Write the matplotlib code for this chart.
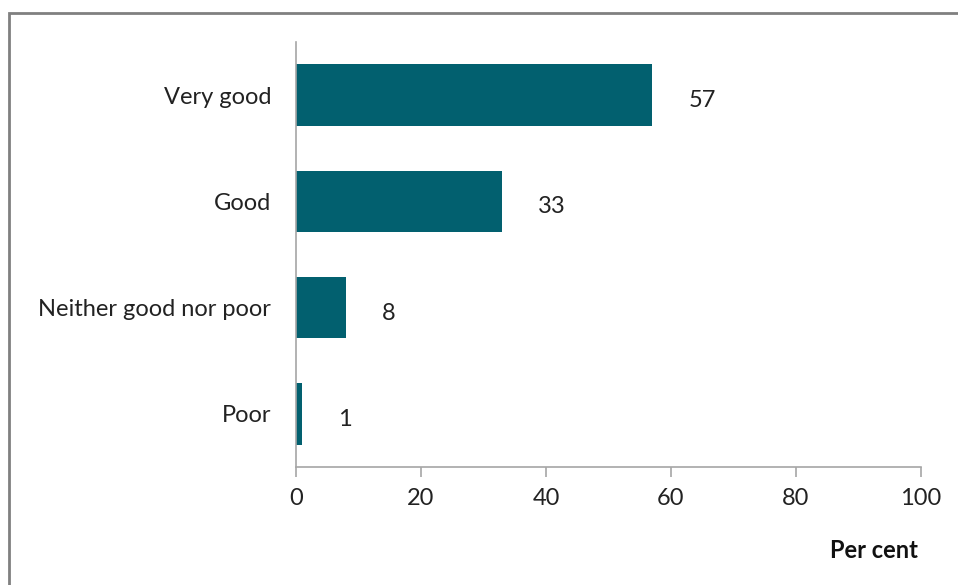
import matplotlib
matplotlib.use("Agg")
import matplotlib.pyplot as plt
from matplotlib.patches import Rectangle

plt.rcParams['font.family'] = ['Lato', 'DejaVu Sans']

categories = ["Very good", "Good", "Neither good nor poor", "Poor"]
values = [57, 33, 8, 1]
xticks = [0, 20, 40, 60, 80, 100]

bar_color = "#02606f"
axis_color = "#a6a6a6"
fs = 17

fig = plt.figure(figsize=(9.58, 5.85), dpi=100)
ax = fig.add_axes([296/958, 1-467/585, 625/958, 425/585])

ypos = list(range(len(categories)))
ax.barh(ypos, values, height=0.58, color=bar_color)
ax.set_ylim(len(categories)-0.5, -0.5)
ax.set_xlim(0, 100)
ax.set_yticks(ypos)
ax.set_yticklabels(categories, fontsize=fs)
ax.set_xticks(xticks)
ax.set_xticklabels([str(t) for t in xticks], fontsize=fs)

for y, v in zip(ypos, values):
    ax.annotate(str(v), (v, y), xytext=(26, -4), textcoords="offset points",
                ha="left", va="center", fontsize=fs, color="#222222")

for s in ["top", "right"]:
    ax.spines[s].set_visible(False)
for s in ["left", "bottom"]:
    ax.spines[s].set_color(axis_color)
    ax.spines[s].set_linewidth(1.2)
ax.tick_params(axis="y", length=0, pad=18, colors="#222222")
ax.tick_params(axis="x", length=7, width=1.2, color=axis_color, pad=8)
ax.tick_params(axis="x", colors=axis_color, labelcolor="#222222")

fig.text(918/958, 1-551/585, "Per cent", ha="right", va="center",
         fontsize=17, fontweight="bold", color="#111111")

# outer frame of the chart area
fig.patches.append(Rectangle((9/958, -0.1), 1.1, 1.1-13/585, transform=fig.transFigure,
                             fill=False, edgecolor="#808080", linewidth=2))

fig.savefig("out.png", dpi=100)
